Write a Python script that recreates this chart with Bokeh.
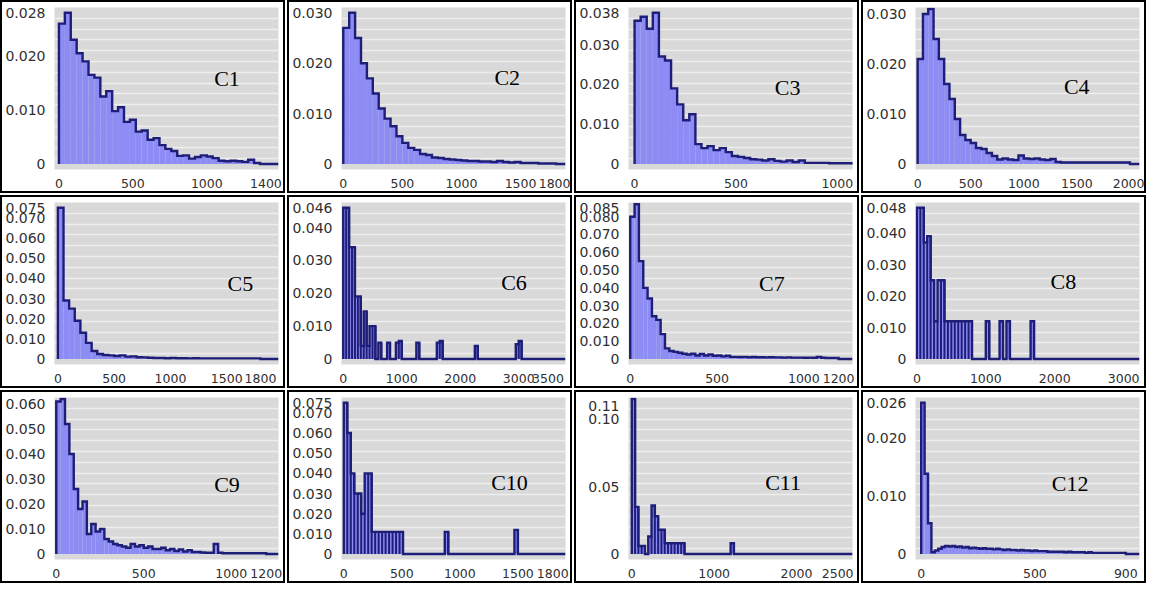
from bokeh.plotting import figure
from bokeh.layouts import gridplot
from bokeh.models import FixedTicker, Label, Range1d
from bokeh.embed import file_html
from bokeh.resources import INLINE

# ------------------------------------------------------------------ data
# dense histograms: bin width + densities of consecutive bins from 0
c1_bin = 40
c1_density = [0.026, 0.028, 0.023, 0.0205, 0.019, 0.0165, 0.016, 0.0125, 0.0135, 0.0098,
              0.0105, 0.0078, 0.0082, 0.006, 0.0062, 0.0045, 0.0048, 0.0035, 0.0028, 0.0024,
              0.0015, 0.0016, 0.001, 0.0013, 0.0016, 0.0014, 0.0011, 0.0006, 0.0005, 0.0006,
              0.0005, 0.0004, 0.0008, 0.0002, 0.0]
c1_xticks = [0, 500, 1000, 1400]
c1_yticks = [0, 0.010, 0.020, 0.028]
c1_ylabels = ["0", "0.010", "0.020", "0.028"]

c2_bin = 50
c2_density = [0.027, 0.030, 0.025, 0.020, 0.017, 0.014, 0.011, 0.009, 0.0075, 0.0055,
              0.0042, 0.0032, 0.0028, 0.002, 0.0018, 0.0013, 0.0012, 0.001, 0.0009, 0.0008,
              0.0007, 0.0006, 0.0006, 0.0005, 0.0005, 0.0004, 0.0006, 0.0004, 0.0003, 0.0004,
              0.0002, 0.0002, 0.0002, 0.0001, 0.0001, 0.0001]
c2_xticks = [0, 500, 1000, 1500, 1800]
c2_yticks = [0, 0.010, 0.020, 0.030]
c2_ylabels = ["0", "0.010", "0.020", "0.030"]

c3_bin = 30
c3_density = [0.036, 0.037, 0.034, 0.038, 0.027, 0.026, 0.019, 0.015, 0.011, 0.0125,
              0.005, 0.004, 0.0045, 0.0035, 0.004, 0.003, 0.002, 0.0018, 0.0015, 0.0012,
              0.0011, 0.0009, 0.0012, 0.0008, 0.0006, 0.0009, 0.0005, 0.0009, 0.0003, 0.0003,
              0.0003, 0.0003, 0.0002, 0.0002, 0.0002, 0.0002, 0.0002]
c3_xticks = [0, 500, 1000]
c3_yticks = [0, 0.010, 0.020, 0.030, 0.038]
c3_ylabels = ["0", "0.010", "0.020", "0.030", "0.038"]

c4_bin = 50
c4_density = [0.021, 0.030, 0.031, 0.025, 0.021, 0.016, 0.013, 0.009, 0.0058, 0.0048,
              0.0042, 0.0032, 0.003, 0.0022, 0.0016, 0.0009, 0.0011, 0.0009, 0.0008, 0.0017,
              0.0011, 0.001, 0.0011, 0.0009, 0.0008, 0.001, 0.0004, 0.0003, 0.0003, 0.0003,
              0.0003, 0.0003, 0.0003, 0.0003, 0.0003, 0.0003, 0.0003, 0.0003, 0.0003, 0.0003]
c4_xticks = [0, 500, 1000, 1500, 2000]
c4_yticks = [0, 0.010, 0.020, 0.030]
c4_ylabels = ["0", "0.010", "0.020", "0.030"]

c5_bin = 50
c5_density = [0.075, 0.029, 0.025, 0.019, 0.013, 0.008, 0.004, 0.0025, 0.002, 0.0018,
              0.0015, 0.0018, 0.0012, 0.0013, 0.0009, 0.0008, 0.0006, 0.0005, 0.0005, 0.0004,
              0.0005, 0.0004, 0.0004, 0.0003, 0.0004, 0.0003, 0.0003, 0.0003, 0.0003, 0.0003,
              0.0003, 0.0003, 0.0003, 0.0003, 0.0003, 0.0003]
c5_xticks = [0, 500, 1000, 1500, 1800]
c5_yticks = [0, 0.010, 0.020, 0.030, 0.040, 0.050, 0.060, 0.070, 0.075]
c5_ylabels = ["0", "0.010", "0.020", "0.030", "0.040", "0.050", "0.060", "0.070", "0.075"]

c7_bin = 25
c7_density = [0.080, 0.087, 0.055, 0.040, 0.034, 0.024, 0.022, 0.014, 0.006, 0.0045,
              0.004, 0.0035, 0.003, 0.0025, 0.003, 0.002, 0.0028, 0.002, 0.0025, 0.0018,
              0.002, 0.0015, 0.0018, 0.0012, 0.0012, 0.0011, 0.0012, 0.001, 0.0011, 0.001,
              0.001, 0.0009, 0.001, 0.0009, 0.0009, 0.0008, 0.0009, 0.0008, 0.0008, 0.0008,
              0.0007, 0.0008, 0.0007, 0.0012, 0.0007, 0.0006, 0.0006, 0.0006]
c7_xticks = [0, 500, 1000, 1200]
c7_yticks = [0, 0.010, 0.020, 0.030, 0.040, 0.050, 0.060, 0.070, 0.080, 0.085]
c7_ylabels = ["0", "0.010", "0.020", "0.030", "0.040", "0.050", "0.060", "0.070", "0.080", "0.085"]

c9_bin = 25
c9_density = [0.061, 0.062, 0.052, 0.040, 0.026, 0.018, 0.021, 0.008, 0.012, 0.009,
              0.010, 0.006, 0.005, 0.004, 0.0035, 0.003, 0.0025, 0.004, 0.003, 0.0035,
              0.0025, 0.003, 0.002, 0.002, 0.0025, 0.0015, 0.002, 0.0012, 0.0018, 0.001,
              0.0015, 0.0008, 0.0008, 0.0006, 0.0005, 0.0005, 0.004, 0.0005, 0.0003, 0.0003,
              0.0003, 0.0003, 0.0003, 0.0003, 0.0003, 0.0003, 0.0003, 0.0003]
c9_xticks = [0, 500, 1000, 1200]
c9_yticks = [0, 0.010, 0.020, 0.030, 0.040, 0.050, 0.060]
c9_ylabels = ["0", "0.010", "0.020", "0.030", "0.040", "0.050", "0.060"]

c12_bin = 15
c12_density = [0.026, 0.0138, 0.0053, 0.0003, 0.0006, 0.0009, 0.0012, 0.0014, 0.0013, 0.0014,
               0.0012, 0.0013, 0.0011, 0.0012, 0.001, 0.0011, 0.001, 0.0009, 0.001, 0.0009,
               0.0009, 0.0008, 0.0009, 0.0008, 0.0007, 0.0008, 0.0007, 0.0007, 0.0006, 0.0007,
               0.0006, 0.0006, 0.0005, 0.0006, 0.0005, 0.0005, 0.0005, 0.0004, 0.0004, 0.0004,
               0.0004, 0.0004, 0.0003, 0.0004, 0.0003, 0.0003, 0.0003, 0.0003, 0.0002, 0.0003,
               0.0002, 0.0002, 0.0002, 0.0002, 0.0002, 0.0002, 0.0002, 0.0002, 0.0002, 0.0002]
c12_xticks = [0, 500, 900]
c12_yticks = [0, 0.010, 0.020, 0.026]
c12_ylabels = ["0", "0.010", "0.020", "0.026"]

# sparse histograms: bin starts + densities (other bins empty)
c6_bin = 50
c6_starts = [0, 50, 100, 150, 200, 250, 300, 350, 400, 450, 500, 600, 750, 900, 950,
             1250, 1600, 1650, 2250, 2950, 3000]
c6_density = [0.046, 0.046, 0.034, 0.034, 0.019, 0.019, 0.004, 0.0145, 0.004, 0.010, 0.010,
              0.005, 0.005, 0.005, 0.0055, 0.005, 0.005, 0.0055, 0.004, 0.0045, 0.0055]
c6_xticks = [0, 1000, 2000, 3000, 3500]
c6_yticks = [0, 0.010, 0.020, 0.030, 0.040, 0.046]
c6_ylabels = ["0", "0.010", "0.020", "0.030", "0.040", "0.046"]

c8_bin = 50
c8_starts = [0, 50, 100, 150, 200, 250, 300, 350, 400, 450, 500, 550, 600, 650, 700, 750,
             1000, 1200, 1300, 1650]
c8_density = [0.048, 0.048, 0.037, 0.039, 0.025, 0.012, 0.025, 0.025, 0.012, 0.012, 0.012,
              0.012, 0.012, 0.012, 0.012, 0.012, 0.012, 0.012, 0.012, 0.012]
c8_xticks = [0, 1000, 2000, 3000]
c8_yticks = [0, 0.010, 0.020, 0.030, 0.040, 0.048]
c8_ylabels = ["0", "0.010", "0.020", "0.030", "0.040", "0.048"]

c10_bin = 30
c10_starts = [0, 30, 60, 90, 120, 150, 180, 210, 240, 270, 300, 330, 360, 390, 420, 450,
              480, 870, 1470]
c10_density = [0.075, 0.060, 0.040, 0.030, 0.030, 0.020, 0.040, 0.040, 0.011, 0.011, 0.011,
               0.011, 0.011, 0.011, 0.011, 0.011, 0.011, 0.011, 0.012]
c10_xticks = [0, 500, 1000, 1500, 1800]
c10_yticks = [0, 0.010, 0.020, 0.030, 0.040, 0.050, 0.060, 0.070, 0.075]
c10_ylabels = ["0", "0.010", "0.020", "0.030", "0.040", "0.050", "0.060", "0.070", "0.075"]

c11_bin = 40
c11_starts = [0, 40, 80, 120, 200, 240, 280, 320, 360, 400, 440, 480, 520, 560, 600, 1200]
c11_density = [0.115, 0.035, 0.006, 0.006, 0.013, 0.036, 0.028, 0.018, 0.018, 0.008, 0.008,
               0.008, 0.008, 0.008, 0.008, 0.008]
c11_xticks = [0, 1000, 2000, 2500]
c11_yticks = [0, 0.05, 0.10, 0.11]
c11_ylabels = ["0", "0.05", "0.10", "0.11"]

# ------------------------------------------------------------------ style
PW, PH = 285, 193
FILL = "#8c8cf4"
DARK = "#1e1e78"
BG = "#d9d9d9"
GRID = "#eeeeee"
TICK_FONT = "DejaVu Sans"


def make_panel(name, starts, density, bin_w, xr, xticks, yticks, ylabels,
               fx, fy, edges=False):
    if starts is None:
        starts = [i * bin_w for i in range(len(density))]
    rights = [s + bin_w for s in starts]
    top = max(max(yticks) * 1.035, max(density) * 1.01)
    y0 = -0.035 * top
    p = figure(width=PW, height=PH, x_range=Range1d(*xr), y_range=Range1d(y0, top),
               output_backend="svg", toolbar_location=None,
               min_border_left=50, min_border_right=9, min_border_top=5,
               min_border_bottom=26)
    p.background_fill_color = BG
    p.border_fill_color = "white"
    p.outline_line_color = None
    p.styles = {"border": "2px solid black"}

    # grid stripes
    n = 15
    p.ygrid.ticker = FixedTicker(ticks=[y0 + (top - y0) * k / n for k in range(1, n)])
    p.ygrid.grid_line_color = GRID
    p.ygrid.grid_line_width = 1.6
    p.xgrid.grid_line_color = None

    # bars
    p.quad(left=starts, right=rights, bottom=0, top=density,
           fill_color=FILL, line_color=None)

    # dark step outline
    xs, ys = [starts[0], starts[0]], [0, 0]
    prev_r = starts[0]
    for s, r, h in zip(starts, rights, density):
        if s > prev_r + 1e-9:
            xs += [prev_r, s]
            ys += [0, 0]
        xs += [s, r]
        ys += [h, h]
        prev_r = r
    xs += [prev_r, xr[1]]
    ys += [0, 0]
    p.line(xs, ys, line_color=DARK, line_width=2.4, line_join="miter")
    if edges:
        p.segment(x0=rights, y0=[0] * len(rights), x1=rights, y1=density,
                  line_color=DARK, line_width=2)

    # axes
    for ax in (p.xaxis[0], p.yaxis[0]):
        ax.axis_line_color = None
        ax.major_tick_line_color = None
        ax.minor_tick_line_color = None
        ax.major_label_text_font = TICK_FONT
        ax.major_label_text_font_size = "14px"
        ax.major_label_text_color = "#303030"
        ax.major_label_standoff = 3
    p.xaxis.major_label_text_font_size = "12.5px"
    p.xaxis.ticker = FixedTicker(ticks=xticks)
    p.xaxis.major_label_overrides = {t: str(t) for t in xticks}
    p.yaxis.ticker = FixedTicker(ticks=yticks)
    p.yaxis.major_label_overrides = dict(zip(yticks, ylabels))

    p.add_layout(Label(x=xr[0] + fx * (xr[1] - xr[0]), y=y0 + fy * (top - y0),
                       text=name, text_font="Liberation Serif", text_font_size="22px",
                       text_align="center", text_baseline="middle", text_color="black"))
    return p


panels = [
    make_panel("C1", None, c1_density, c1_bin, (-30, 1485), c1_xticks, c1_yticks, c1_ylabels, 0.77, 0.56),
    make_panel("C2", None, c2_density, c2_bin, (-15, 1880), c2_xticks, c2_yticks, c2_ylabels, 0.74, 0.565),
    make_panel("C3", None, c3_density, c3_bin, (-30, 1075), c3_xticks, c3_yticks, c3_ylabels, 0.71, 0.505),
    make_panel("C4", None, c4_density, c4_bin, (-20, 2090), c4_xticks, c4_yticks, c4_ylabels, 0.72, 0.515),
    make_panel("C5", None, c5_density, c5_bin, (-30, 1960), c5_xticks, c5_yticks, c5_ylabels, 0.83, 0.50),
    make_panel("C6", c6_starts, c6_density, c6_bin, (-30, 3800), c6_xticks, c6_yticks, c6_ylabels, 0.77, 0.505, True),
    make_panel("C7", None, c7_density, c7_bin, (-10, 1280), c7_xticks, c7_yticks, c7_ylabels, 0.64, 0.50),
    make_panel("C8", c8_starts, c8_density, c8_bin, (-20, 3230), c8_xticks, c8_yticks, c8_ylabels, 0.66, 0.515, True),
    make_panel("C9", None, c9_density, c9_bin, (-10, 1270), c9_xticks, c9_yticks, c9_ylabels, 0.77, 0.465),
    make_panel("C10", c10_starts, c10_density, c10_bin, (-20, 1910), c10_xticks, c10_yticks, c10_ylabels, 0.75, 0.475, True),
    make_panel("C11", c11_starts, c11_density, c11_bin, (-40, 2680), c11_xticks, c11_yticks, c11_ylabels, 0.69, 0.475, True),
    make_panel("C12", None, c12_density, c12_bin, (-25, 960), c12_xticks, c12_yticks, c12_ylabels, 0.69, 0.47),
]

grid = gridplot(panels, ncols=4, toolbar_location=None)
grid.spacing = 2

open("out.html", "w").write(file_html(grid, INLINE))
